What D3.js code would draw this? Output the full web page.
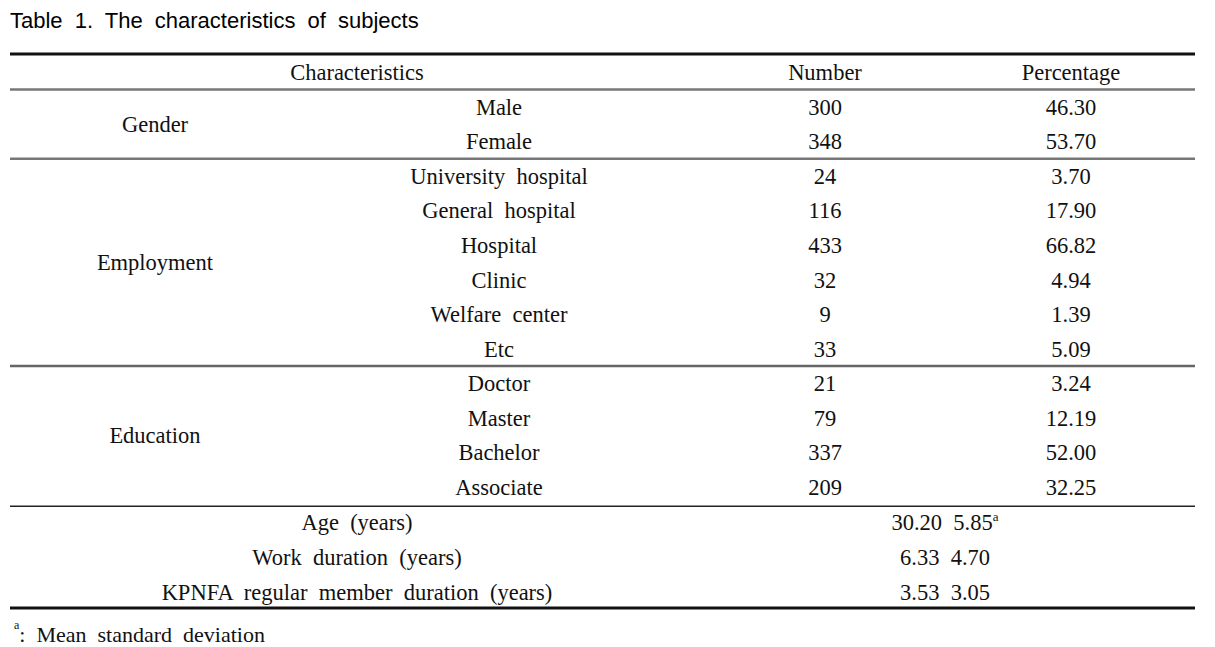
<!DOCTYPE html>
<html><head><meta charset="utf-8">
<script src="https://cdn.jsdelivr.net/npm/d3@7"></script>
<style>body{margin:0;background:#fff}</style>
</head><body>
<script>
const title = "Table 1. The characteristics of subjects";
const headers = ["Characteristics", "Number", "Percentage"];
const groups = ["Gender", "Employment", "Education"];
const groupSizes = [2, 6, 4];
const subcategories = ["Male","Female","University  hospital","General  hospital","Hospital","Clinic","Welfare  center","Etc","Doctor","Master","Bachelor","Associate"];
const numbers = [300,348,24,116,433,32,9,33,21,79,337,209];
const percentages = ["46.30","53.70","3.70","17.90","66.82","4.94","1.39","5.09","3.24","12.19","52.00","32.25"];
const contLabels = ["Age  (years)", "Work  duration  (years)", "KPNFA  regular  member  duration  (years)"];
const means = ["30.20","6.33","3.53"];
const sds = ["5.85","4.70","3.05"];
const footnote = ":  Mean  standard  deviation";

const W = 1215, H = 647;
const svg = d3.select("body").append("svg").attr("width", W).attr("height", H)
  .style("font-family", "'Liberation Serif', 'Times New Roman', serif");

const nRows = 1 + subcategories.length + contLabels.length;
const y = d3.scaleBand().domain(d3.range(nRows)).range([55, 608]).padding(0);
const x = d3.scaleOrdinal().domain(["group","char","sub","num","pct","cont"]).range([155, 357, 499, 825, 1071, 945]);
const yc = i => y(i) + y.bandwidth()/2;
const FS = 22.5;

svg.append("text").attr("x", 10).attr("y", 28).text(title)
  .style("font-family", "'Liberation Sans', Arial, sans-serif").style("font-size", "22px")
  .style("word-spacing", "6px").attr("fill", "#000");

function txt(xx, yy, s) {
  return svg.append("text").attr("x", xx).attr("y", yy).attr("dy", "0.35em")
    .attr("text-anchor", "middle").style("font-size", FS + "px").attr("fill", "#111")
    .style("white-space", "pre").text(s);
}
// header
txt(x("char"), yc(0), headers[0]);
txt(x("num"), yc(0), headers[1]);
txt(x("pct"), yc(0), headers[2]);
// groups
let start = 1;
groups.forEach((g, gi) => {
  const n = groupSizes[gi];
  const mid = (y(start) + y(start + n - 1) + y.bandwidth()) / 2;
  txt(x("group"), mid, g);
  start += n;
});
subcategories.forEach((s, i) => {
  txt(x("sub"), yc(i + 1), s);
  txt(x("num"), yc(i + 1), numbers[i]);
  txt(x("pct"), yc(i + 1), percentages[i]);
});
contLabels.forEach((s, i) => {
  const r = 1 + subcategories.length + i;
  txt(x("char"), yc(r) + 1, s);
  const t = txt(x("cont"), yc(r) + 1, "");
  t.append("tspan").text(means[i] + "  " + sds[i]);
  if (i === 0) t.append("tspan").attr("dy", "-0.75em").style("font-size", "13px").text("a");
});

// rules
const x0 = 10, x1 = 1195;
function rule(yy, w, c) {
  svg.append("line").attr("x1", x0).attr("x2", x1).attr("y1", yy).attr("y2", yy)
    .attr("stroke", c).attr("stroke-width", w);
}
rule(y(0) - 1, 3, "#111");
rule(y(1), 2.5, "#777");
rule(y(3), 2.5, "#777");
rule(y(9), 2.5, "#666");
rule(y(13) + 2, 1.5, "#222");
rule(608, 3, "#111");

// footnote
const fn = svg.append("text").attr("x", 14).attr("y", 636).style("font-size", "22px").attr("fill", "#111").style("white-space", "pre");
fn.append("tspan").attr("dy", "-0.55em").style("font-size", "12px").text("a");
fn.append("tspan").attr("dy", "0.55em").text(footnote);
</script>
</body></html>
